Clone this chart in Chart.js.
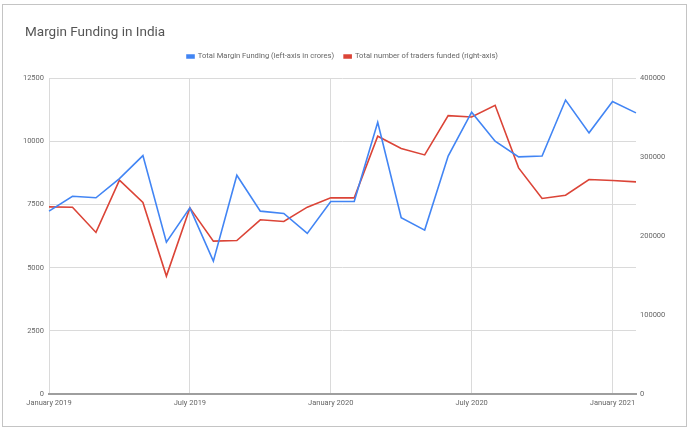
<!DOCTYPE html>
<html>
<head>
<meta charset="utf-8">
<script src="https://cdn.jsdelivr.net/npm/chart.js@4"></script>
<style>
  body { margin: 0; background: #fff; }
  #frame { position: absolute; left: 2px; top: 4px; width: 683px; height: 421px; border: 1px solid #c4c4c4; background: #fff; }
</style>
</head>
<body>
<div id="frame"><canvas id="margin-chart" width="683" height="421"></canvas></div>
<script>
let months = ['January 2019', 'February 2019', 'March 2019', 'April 2019', 'May 2019', 'June 2019',
    'July 2019', 'August 2019', 'September 2019', 'October 2019', 'November 2019', 'December 2019',
    'January 2020', 'February 2020', 'March 2020', 'April 2020', 'May 2020', 'June 2020',
    'July 2020', 'August 2020', 'September 2020', 'October 2020', 'November 2020', 'December 2020',
    'January 2021', 'February 2021'];

let marginFunding = [7240, 7830, 7770, 8530, 9440, 6010, 7370, 5260, 8660, 7240, 7150, 6360,
    7620, 7620, 10760, 6980, 6490, 9420, 11160, 10010, 9390, 9420, 11640, 10340, 11580, 11130];

let tradersFunded = [237100, 236700, 204700, 270900, 242600, 149400, 235800, 193700, 194500, 220700, 218600, 236700,
    248500, 248500, 326600, 311000, 302900, 352700, 351000, 365800, 286500, 247700, 251900, 271700, 270500, 268800];

let leftTicks = [0, 2500, 5000, 7500, 10000, 12500];
let rightTicks = [0, 100000, 200000, 300000, 400000];

Chart.defaults.font.family = 'Roboto';
Chart.defaults.color = '#666';

// extra space under the legend, title pushed in from the frame edge
let chartTweaks = {
    id: 'chartTweaks',
    beforeInit: function (chart) {
        let fit = chart.legend.fit;
        chart.legend.fit = function () {
            fit.bind(chart.legend)();
            this.height += 8;
        };
    },
    afterLayout: function (chart) {
        chart.titleBlock.left += 22;
    }
};

window.onload = function () {
    let ctx = document.getElementById('margin-chart').getContext('2d');
    new Chart(ctx, {
        type: 'line',
        data: {
            labels: months,
            datasets: [{
                label: 'Total Margin Funding (left-axis in crores)',
                data: marginFunding,
                borderColor: '#4285F4',
                backgroundColor: '#4285F4',
                borderWidth: 1.6,
                pointRadius: 0,
                tension: 0,
                yAxisID: 'y'
            }, {
                label: 'Total number of traders funded (right-axis)',
                data: tradersFunded,
                borderColor: '#DB4437',
                backgroundColor: '#DB4437',
                borderWidth: 1.6,
                pointRadius: 0,
                tension: 0,
                yAxisID: 'y1'
            }]
        },
        plugins: [chartTweaks],
        options: {
            responsive: false,
            animation: false,
            layout: { padding: 0 },
            plugins: {
                title: {
                    display: true,
                    text: 'Margin Funding in India',
                    align: 'start',
                    color: '#555',
                    font: { size: 13.5, weight: 'normal' },
                    padding: { top: 19.5, bottom: 2 }
                },
                legend: {
                    position: 'top',
                    fullSize: false,
                    labels: {
                        boxWidth: 7,
                        boxHeight: 3,
                        padding: 10,
                        color: '#666',
                        font: { size: 7.6 }
                    }
                },
                tooltip: { enabled: false }
            },
            scales: {
                x: {
                    offset: false,
                    grid: {
                        drawTicks: false,
                        color: function (c) { return c.index % 6 === 0 ? '#dadada' : 'rgba(0,0,0,0)'; }
                    },
                    border: { display: true, color: '#9e9e9e', width: 2 },
                    ticks: {
                        autoSkip: false,
                        maxRotation: 0,
                        padding: 5,
                        font: { size: 7.5 },
                        callback: function (v, i) { return i % 6 === 0 ? months[i] : ''; }
                    },
                    afterFit: function (s) { s.height = 32; }
                },
                y: {
                    position: 'left',
                    min: leftTicks[0],
                    max: leftTicks[leftTicks.length - 1],
                    grid: { drawTicks: false, color: '#dadada' },
                    border: { display: false },
                    ticks: {
                        stepSize: 2500,
                        padding: 5,
                        font: { size: 7.5 },
                        callback: function (v) { return v; }
                    },
                    afterFit: function (s) { s.width = 46; }
                },
                y1: {
                    position: 'right',
                    min: rightTicks[0],
                    max: rightTicks[rightTicks.length - 1],
                    grid: { display: false, drawTicks: false },
                    border: { display: false },
                    ticks: {
                        stepSize: 100000,
                        padding: 4,
                        font: { size: 7.5 },
                        callback: function (v) { return v; }
                    },
                    afterFit: function (s) { s.width = 50; }
                }
            }
        }
    });
};
</script>
</body>
</html>
